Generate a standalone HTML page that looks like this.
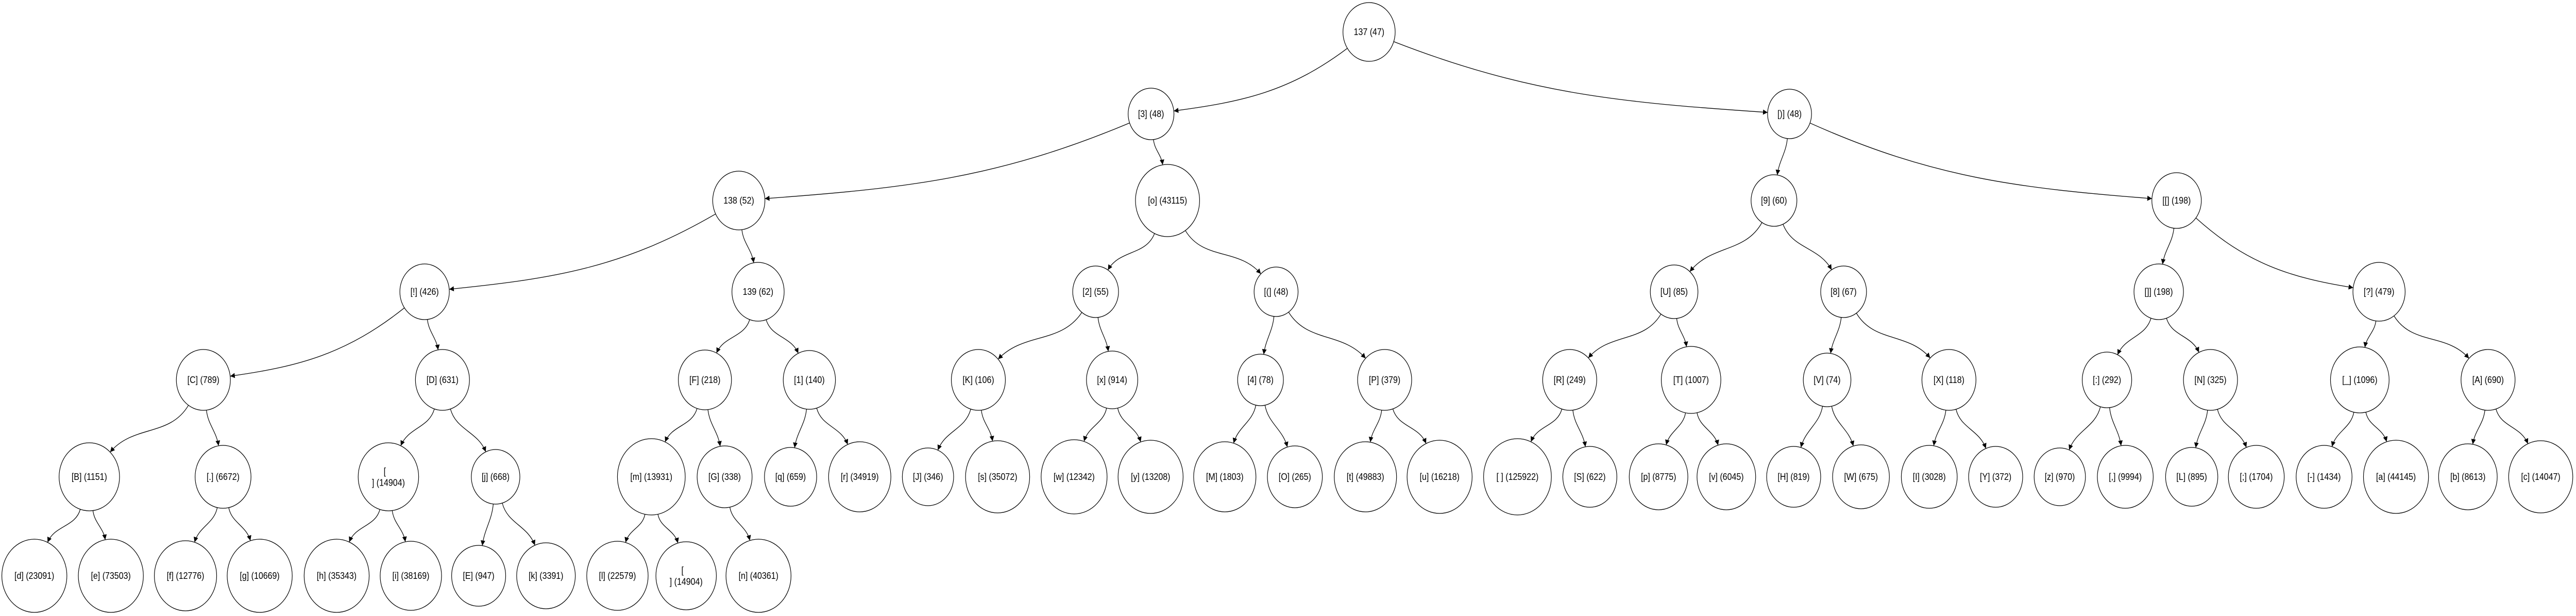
<!DOCTYPE html>
<html><head><meta charset="utf-8"><style>
html,body{margin:0;padding:0;background:#fff;overflow:hidden;width:100%;height:100%;}
svg{display:block;width:100vw;height:100vh;}
text{font-family:"Liberation Sans",Arial,sans-serif;font-size:18px;fill:#000;text-anchor:middle;dominant-baseline:central;}
circle{fill:#fff;stroke:#000;stroke-width:1.3;}
</style></head><body>
<svg id="g" viewBox="0 0 5624 1195" preserveAspectRatio="none" xmlns="http://www.w3.org/2000/svg">
<defs><marker id="ar" viewBox="0 0 10 10" refX="10" refY="5" markerWidth="14" markerHeight="10" markerUnits="userSpaceOnUse" orient="auto"><path d="M0,0 L10,5 L0,10 z" fill="#000"/></marker></defs>
<g id="edges"></g>
<g id="nodes">
<g id="root"><circle cx="2989" cy="62" r="57"/><text x="2989" y="62">137 (47)</text></g>
<g id="n3"><circle cx="2513" cy="221" r="50"/><text x="2513" y="221">[3] (48)</text></g>
<g id="nrp"><circle cx="3907" cy="221" r="48"/><text x="3907" y="221">[)] (48)</text></g>
<g id="n138"><circle cx="1613" cy="389" r="57"/><text x="1613" y="389">138 (52)</text></g>
<g id="no"><circle cx="2549" cy="389" r="70"/><text x="2549" y="389">[o] (43115)</text></g>
<g id="n9"><circle cx="3873" cy="389" r="50"/><text x="3873" y="389">[9] (60)</text></g>
<g id="nlb"><circle cx="4752" cy="389" r="54"/><text x="4752" y="389">[[] (198)</text></g>
<g id="nex"><circle cx="927" cy="566" r="54"/><text x="927" y="566">[!] (426)</text></g>
<g id="n139"><circle cx="1655" cy="566" r="57"/><text x="1655" y="566">139 (62)</text></g>
<g id="n2"><circle cx="2392" cy="566" r="50"/><text x="2392" y="566">[2] (55)</text></g>
<g id="nlp"><circle cx="2786" cy="566" r="48"/><text x="2786" y="566">[(] (48)</text></g>
<g id="nU"><circle cx="3655" cy="566" r="52"/><text x="3655" y="566">[U] (85)</text></g>
<g id="n8"><circle cx="4025" cy="566" r="50"/><text x="4025" y="566">[8] (67)</text></g>
<g id="nrb"><circle cx="4713" cy="566" r="54"/><text x="4713" y="566">[]] (198)</text></g>
<g id="nq"><circle cx="5194" cy="566" r="57"/><text x="5194" y="566">[?] (479)</text></g>
<g id="nC"><circle cx="444" cy="737" r="59"/><text x="444" y="737">[C] (789)</text></g>
<g id="nD"><circle cx="966" cy="737" r="59"/><text x="966" y="737">[D] (631)</text></g>
<g id="nF"><circle cx="1539" cy="737" r="58"/><text x="1539" y="737">[F] (218)</text></g>
<g id="n1"><circle cx="1767" cy="737" r="57"/><text x="1767" y="737">[1] (140)</text></g>
<g id="nK"><circle cx="2136" cy="737" r="59"/><text x="2136" y="737">[K] (106)</text></g>
<g id="nx"><circle cx="2428" cy="737" r="56"/><text x="2428" y="737">[x] (914)</text></g>
<g id="n4"><circle cx="2752" cy="737" r="50"/><text x="2752" y="737">[4] (78)</text></g>
<g id="nP"><circle cx="3023" cy="737" r="59"/><text x="3023" y="737">[P] (379)</text></g>
<g id="nR"><circle cx="3427" cy="737" r="59"/><text x="3427" y="737">[R] (249)</text></g>
<g id="nT"><circle cx="3692" cy="737" r="65"/><text x="3692" y="737">[T] (1007)</text></g>
<g id="nV"><circle cx="3989" cy="737" r="52"/><text x="3989" y="737">[V] (74)</text></g>
<g id="nX"><circle cx="4255" cy="737" r="59"/><text x="4255" y="737">[X] (118)</text></g>
<g id="ncol"><circle cx="4600" cy="737" r="54"/><text x="4600" y="737">[:] (292)</text></g>
<g id="nN"><circle cx="4826" cy="737" r="59"/><text x="4826" y="737">[N] (325)</text></g>
<g id="nus"><circle cx="5152" cy="737" r="64"/><text x="5152" y="737">[_] (1096)</text></g>
<g id="nA"><circle cx="5432" cy="737" r="59"/><text x="5432" y="737">[A] (690)</text></g>
<g id="nB"><circle cx="195" cy="925" r="66"/><text x="195" y="925">[B] (1151)</text></g>
<g id="ndot"><circle cx="487" cy="925" r="61"/><text x="487" y="925">[.] (6672)</text></g>
<g id="nnl"><circle cx="848" cy="925" r="66"/><text x="848" y="925"><tspan x="840" dy="-11">[</tspan><tspan x="848" dy="22">] (14904)</tspan></text></g>
<g id="nj"><circle cx="1082" cy="925" r="53"/><text x="1082" y="925">[j] (668)</text></g>
<g id="nm"><circle cx="1422" cy="925" r="74"/><text x="1422" y="925">[m] (13931)</text></g>
<g id="nG"><circle cx="1582" cy="925" r="60"/><text x="1582" y="925">[G] (338)</text></g>
<g id="nqq"><circle cx="1726" cy="925" r="57"/><text x="1726" y="925">[q] (659)</text></g>
<g id="nr"><circle cx="1877" cy="925" r="68"/><text x="1877" y="925">[r] (34919)</text></g>
<g id="nJ"><circle cx="2026" cy="925" r="56"/><text x="2026" y="925">[J] (346)</text></g>
<g id="ns"><circle cx="2178" cy="925" r="70"/><text x="2178" y="925">[s] (35072)</text></g>
<g id="nw"><circle cx="2345" cy="925" r="72"/><text x="2345" y="925">[w] (12342)</text></g>
<g id="ny"><circle cx="2512" cy="925" r="71"/><text x="2512" y="925">[y] (13208)</text></g>
<g id="nM"><circle cx="2674" cy="925" r="68"/><text x="2674" y="925">[M] (1803)</text></g>
<g id="nO"><circle cx="2827" cy="925" r="60"/><text x="2827" y="925">[O] (265)</text></g>
<g id="nt"><circle cx="2981" cy="925" r="68"/><text x="2981" y="925">[t] (49883)</text></g>
<g id="nu"><circle cx="3143" cy="925" r="71"/><text x="3143" y="925">[u] (16218)</text></g>
<g id="nsp"><circle cx="3313" cy="925" r="74"/><text x="3313" y="925">[ ] (125922)</text></g>
<g id="nS"><circle cx="3471" cy="925" r="59"/><text x="3471" y="925">[S] (622)</text></g>
<g id="np"><circle cx="3621" cy="925" r="64"/><text x="3621" y="925">[p] (8775)</text></g>
<g id="nv"><circle cx="3769" cy="925" r="64"/><text x="3769" y="925">[v] (6045)</text></g>
<g id="nH"><circle cx="3916" cy="925" r="59"/><text x="3916" y="925">[H] (819)</text></g>
<g id="nW"><circle cx="4063" cy="925" r="62"/><text x="4063" y="925">[W] (675)</text></g>
<g id="nI"><circle cx="4212" cy="925" r="61"/><text x="4212" y="925">[I] (3028)</text></g>
<g id="nY"><circle cx="4357" cy="925" r="59"/><text x="4357" y="925">[Y] (372)</text></g>
<g id="nz"><circle cx="4497" cy="925" r="56"/><text x="4497" y="925">[z] (970)</text></g>
<g id="ncom"><circle cx="4640" cy="925" r="61"/><text x="4640" y="925">[,] (9994)</text></g>
<g id="nL"><circle cx="4785" cy="925" r="57"/><text x="4785" y="925">[L] (895)</text></g>
<g id="nsemi"><circle cx="4926" cy="925" r="61"/><text x="4926" y="925">[;] (1704)</text></g>
<g id="ndash"><circle cx="5074" cy="925" r="61"/><text x="5074" y="925">[-] (1434)</text></g>
<g id="na"><circle cx="5231" cy="925" r="71"/><text x="5231" y="925">[a] (44145)</text></g>
<g id="nb"><circle cx="5388" cy="925" r="64"/><text x="5388" y="925">[b] (8613)</text></g>
<g id="nc"><circle cx="5547" cy="925" r="70"/><text x="5547" y="925">[c] (14047)</text></g>
<g id="nd"><circle cx="75" cy="1117" r="71"/><text x="75" y="1117">[d] (23091)</text></g>
<g id="ne"><circle cx="242" cy="1117" r="71"/><text x="242" y="1117">[e] (73503)</text></g>
<g id="nf"><circle cx="405" cy="1117" r="68"/><text x="405" y="1117">[f] (12776)</text></g>
<g id="ng"><circle cx="567" cy="1117" r="71"/><text x="567" y="1117">[g] (10669)</text></g>
<g id="nh"><circle cx="735" cy="1117" r="71"/><text x="735" y="1117">[h] (35343)</text></g>
<g id="ni"><circle cx="897" cy="1117" r="67"/><text x="897" y="1117">[i] (38169)</text></g>
<g id="nE"><circle cx="1045" cy="1117" r="59"/><text x="1045" y="1117">[E] (947)</text></g>
<g id="nk"><circle cx="1192" cy="1117" r="64"/><text x="1192" y="1117">[k] (3391)</text></g>
<g id="nl"><circle cx="1348" cy="1117" r="67"/><text x="1348" y="1117">[l] (22579)</text></g>
<g id="nnl2"><circle cx="1498" cy="1117" r="66"/><text x="1498" y="1117"><tspan x="1490" dy="-11">[</tspan><tspan x="1498" dy="22">] (14904)</tspan></text></g>
<g id="nn"><circle cx="1656" cy="1117" r="71"/><text x="1656" y="1117">[n] (40361)</text></g>
</g>
</svg>
<script>
(function(){
var E=[["root","n3"],["root","nrp"],["n3","n138"],["n3","no"],["n138","nex"],["n138","n139"],
["nex","nC"],["nex","nD"],["nC","nB"],["nC","ndot"],["nB","nd"],["nB","ne"],["ndot","nf"],["ndot","ng"],
["nD","nnl"],["nD","nj"],["nnl","nh"],["nnl","ni"],["nj","nE"],["nj","nk"],
["n139","nF"],["n139","n1"],["nF","nm"],["nF","nG"],["nm","nl"],["nm","nnl2"],["nG","nn"],["n1","nqq"],["n1","nr"],
["no","n2"],["no","nlp"],["n2","nK"],["n2","nx"],["nK","nJ"],["nK","ns"],["nx","nw"],["nx","ny"],
["nlp","n4"],["nlp","nP"],["n4","nM"],["n4","nO"],["nP","nt"],["nP","nu"],
["nrp","n9"],["nrp","nlb"],["n9","nU"],["n9","n8"],["nU","nR"],["nU","nT"],["nR","nsp"],["nR","nS"],["nT","np"],["nT","nv"],
["n8","nV"],["n8","nX"],["nV","nH"],["nV","nW"],["nX","nI"],["nX","nY"],
["nlb","nrb"],["nlb","nq"],["nrb","ncol"],["nrb","nN"],["ncol","nz"],["ncol","ncom"],["nN","nL"],["nN","nsemi"],
["nq","nus"],["nq","nA"],["nus","ndash"],["nus","na"],["nA","nb"],["nA","nc"]];
function info(id){var c=document.getElementById(id).querySelector("circle");
return {x:+c.getAttribute("cx"),y:+c.getAttribute("cy"),r:+c.getAttribute("r")};}
function nz(x,y){var l=Math.sqrt(x*x+y*y)||1;return [x/l,y/l];}
var out="";
E.forEach(function(e){var p=info(e[0]),c=info(e[1]);var dx=c.x-p.x,dy=c.y-p.y;
var d1=nz(dx*0.55,dy*1.1);var sx=p.x+d1[0]*p.r,sy=p.y+d1[1]*p.r;
var d2=nz(-dx,-dy*(Math.abs(dx)>2*dy?0.35:1.4));var ex=c.x+d2[0]*c.r,ey=c.y+d2[1]*c.r;
var L=Math.sqrt((ex-sx)*(ex-sx)+(ey-sy)*(ey-sy))*0.38;
var c1x=sx+d1[0]*L,c1y=sy+d1[1]*L,c2x=ex+d2[0]*L,c2y=ey+d2[1]*L;
out+='<path d="M'+sx.toFixed(1)+','+sy.toFixed(1)+' C'+c1x.toFixed(1)+','+c1y.toFixed(1)+' '+c2x.toFixed(1)+','+c2y.toFixed(1)+' '+ex.toFixed(1)+','+ey.toFixed(1)+'" fill="none" stroke="#000" stroke-width="1.3" marker-end="url(#ar)"/>';});
document.getElementById("edges").innerHTML=out;
})();
</script>
</body></html>
